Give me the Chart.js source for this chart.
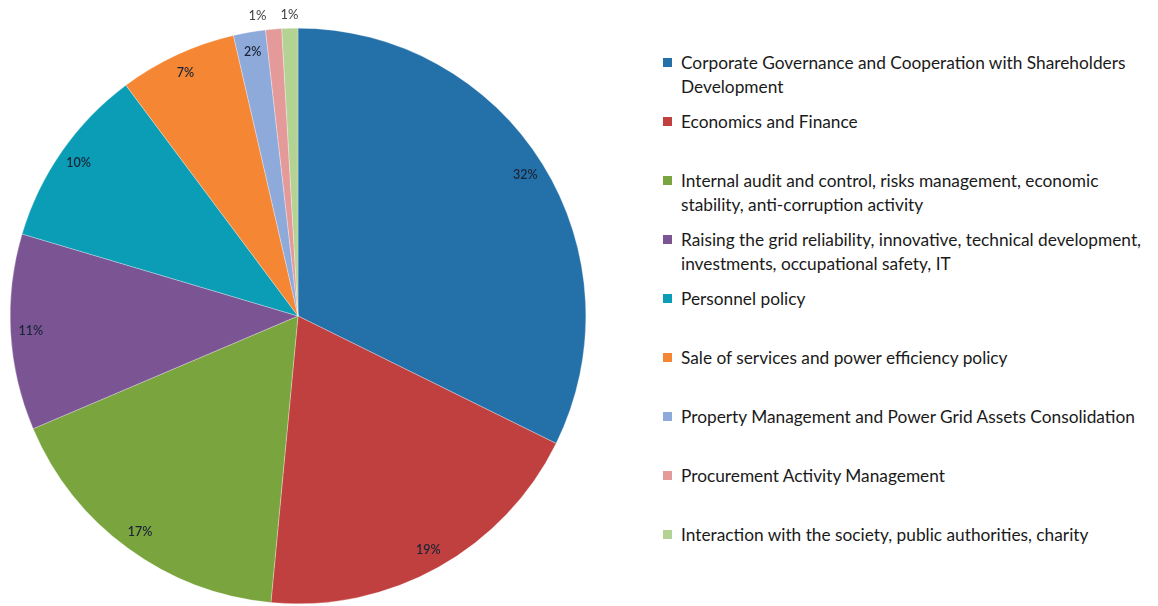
<!DOCTYPE html>
<html>
<head>
<meta charset="utf-8">
<script src="https://cdn.jsdelivr.net/npm/chart.js@4/dist/chart.umd.min.js"></script>
<style>
  body { margin: 0; background: #fff; width: 1158px; height: 606px; overflow: hidden; position: relative; }
  #pieBox { position: absolute; left: 0; top: 0; width: 596px; height: 606px; }
  #legend { position: absolute; left: 0; top: 0; }
  .item { position: absolute; left: 663px; width: 495px; font-family: Lato, sans-serif; font-size: 17.3px; line-height: 24px; color: #1a1a1a; }
  .item .box { position: absolute; left: 0; top: 7px; width: 9px; height: 9px; }
  .item .txt { margin-left: 18px; width: 472px; }
</style>
</head>
<body>
<div id="pieBox"><canvas id="pie"></canvas></div>
<div id="legend"></div>
<script>
// chart data
const categories = [
  'Corporate Governance and Cooperation with Shareholders Development',
  'Economics and Finance',
  'Internal audit and control, risks management, economic stability, anti-corruption activity',
  'Raising the grid reliability, innovative, technical development, investments, occupational safety, IT',
  'Personnel policy',
  'Sale of services and power efficiency policy',
  'Property Management and Power Grid Assets Consolidation',
  'Procurement Activity Management',
  'Interaction with the society, public authorities, charity'
];
const shares = [32.3, 19.2, 17.1, 11.0, 10.2, 6.6, 1.8, 0.9, 0.9];
const colors = ['#2471a9', '#c0403f', '#7aa43e', '#7b5593', '#0a9db5', '#f58634', '#8eaadb', '#e59a9a', '#b3d293'];

// percent labels on / next to the slices
const pctLabels = {
  id: 'pctLabels',
  afterDatasetsDraw(chart) {
    const ctx = chart.ctx;
    const arcs = chart.getDatasetMeta(0).data;
    const outside = [];
    ctx.save();
    ctx.textAlign = 'center';
    ctx.textBaseline = 'middle';
    arcs.forEach((arc, i) => {
      const mid = (arc.startAngle + arc.endAngle) / 2;
      const txt = Math.round(shares[i]) + '%';
      if (shares[i] < 1.5) {
        const r = arc.outerRadius + 13;
        outside.push({ x: arc.x + Math.cos(mid) * r, y: arc.y + Math.sin(mid) * r, txt });
      } else {
        const r = arc.outerRadius * 0.93;
        ctx.font = '600 12.5px Lato, sans-serif';
        ctx.fillStyle = '#1b2436';
        ctx.fillText(txt, arc.x + Math.cos(mid) * r, arc.y + Math.sin(mid) * r);
      }
    });
    // push crowded outside labels apart, moving earlier ones left
    for (let i = outside.length - 2; i >= 0; i--) {
      if (outside[i + 1].x - outside[i].x < 32) outside[i].x = outside[i + 1].x - 32;
    }
    ctx.font = '13px Lato, sans-serif';
    ctx.fillStyle = '#404040';
    outside.forEach(o => ctx.fillText(o.txt, o.x, o.y));
    ctx.restore();
  }
};

new Chart(document.getElementById('pie'), {
  type: 'pie',
  data: {
    labels: categories,
    datasets: [{
      data: shares,
      backgroundColor: colors,
      borderWidth: 0.3,
      borderColor: '#ffffff'
    }]
  },
  options: {
    responsive: true,
    maintainAspectRatio: false,
    animation: false,
    layout: { padding: { top: 28, bottom: 2 } },
    plugins: {
      legend: { display: false },
      tooltip: { enabled: false }
    }
  },
  plugins: [pctLabels]
});

// html legend on the right
const legend = document.getElementById('legend');
categories.forEach((name, i) => {
  const el = document.createElement('div');
  el.className = 'item';
  el.style.top = (51 + i * 59) + 'px';
  el.innerHTML = '<span class="box" style="background:' + colors[i] + '"></span><div class="txt">' + name + '</div>';
  legend.appendChild(el);
});
</script>
</body>
</html>
